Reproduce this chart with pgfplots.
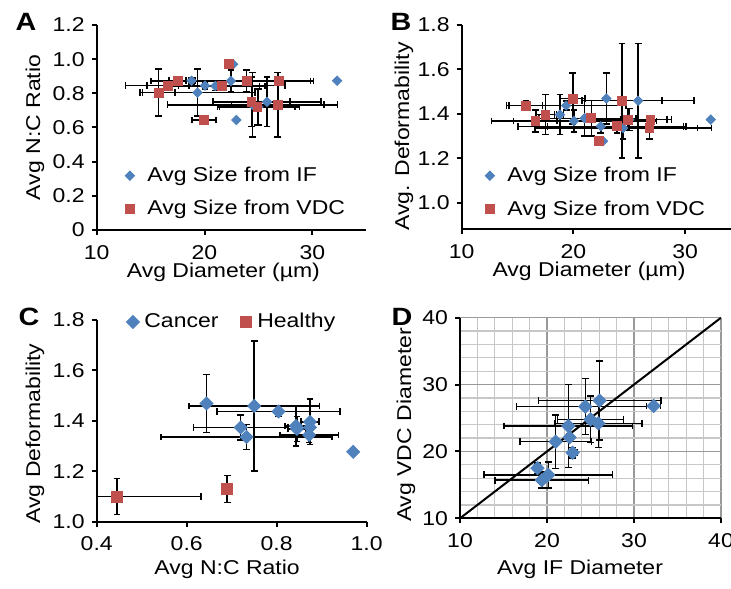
\documentclass[border=0pt]{standalone}
\usepackage{pgfplots}
\pgfplotsset{compat=1.18}
\usepackage{pgfplotstable}
\usepackage{fontspec}
\setmainfont{Liberation Sans}[FakeStretch=1.15]
\definecolor{xblue}{HTML}{4F81BD}
\definecolor{xred}{HTML}{C0504D}

% cancer samples: IF diameter, VDC diameter, N:C ratio, deformability (with errors)
\pgfplotstableread{
if    ife   vdc   vdce  nc    nce    def   defe
18.8  0.3   17.5  0.8   0.874 0.02   1.396 0.09
19.35 5.35  15.75 1.5   0.804 0.137  1.437 0.02
20.05 7.4   16.6  1.95  0.845 0.02   1.368 0.05
21.0  4.1   21.6  4.0   0.843 0.025  1.380 0.08
22.65 0     22.3  0     0.970 0      1.277 0
22.45 7.4   23.9  6.2   0.872 0.065  1.344 0.03
22.95 0     19.95 1.1   0.644 0      1.469 0.115
24.45 7.9   26.8  4.3   0.733 0.19   1.336 0.05
25.0  3.8   24.9  3.5   0.720 0.105  1.374 0.05
25.8  5.0   24.35 3.6   0.750 0.145  1.459 0.257
32.3  0     26.9  0     0.874 0      1.374 0
}\cancer

\pgfplotstableread{
nc    nce    def   defe
0.445 0.187  1.100 0.072
0.690 0      1.130 0.053
}\healthy

% panel D: IF vs VDC diameter
\pgfplotstableread{
if    ife   vdc   vdce
18.9  0.3   17.5  0.8
19.4  5.35  15.7  1.2
20.15 7.4   16.5  1.95
21.0  4.1   21.45 4.0
22.6  0     22.1  0.5
22.45 7.4   23.8  6.2
22.95 0.5   19.8  0.8
24.4  7.9   26.7  4.2
25.0  3.8   24.8  3.5
25.9  5.0   24.2  3.6
26.05 7.05  27.6  5.9
32.25 0.8   26.8  0
}\dpairs

\pgfplotsset{
  excelaxis/.style={
    scale only axis,
    anchor=south west,
    axis lines=left,
    axis line style={-, line width=1pt, black},
    tick align=outside,
    major tick length=2.5pt,
    tick style={line width=1pt, black},
    tick label style={font=\fontsize{10}{12}\selectfont},
    xticklabel style={yshift=-1.5pt},
    label style={font=\fontsize{10}{12}\selectfont},
    /pgf/number format/assume math mode=true,
    legend style={draw=none, fill=none, inner sep=0pt,
      font=\fontsize{10}{12}\selectfont, cells={anchor=west}},
  },
  ebars/.style={
    /pgfplots/error bars/x dir=both, /pgfplots/error bars/x explicit,
    /pgfplots/error bars/y dir=both, /pgfplots/error bars/y explicit,
    /pgfplots/error bars/error bar style={black, line width=0.75pt, solid},
    /pgfplots/error bars/error mark options={rotate=90, black, line width=0.75pt, mark size=1.7pt},
  },
  bluemark/.style={only marks, mark=square*, mark size=#1,
    mark options={rotate=45, fill=xblue, draw=xblue, solid}},
  redmark/.style={only marks, mark=square*, mark size=#1,
    mark options={fill=xred, draw=xred, solid}},
  wideimg/.style={legend image code/.code={\path (0pt,-3pt) (11pt,3pt); \draw[##1] plot coordinates {(4.5pt,0pt)};}},
  narrowimg/.style={legend image code/.code={\path (0pt,-3pt) (8pt,3pt); \draw[##1] plot coordinates {(4.5pt,0pt)};}},
}

\begin{document}
\begin{tikzpicture}
\path[use as bounding box] (0,0) rectangle (365.5pt,294pt);

% ---------------- Panel A ----------------
\begin{axis}[excelaxis,
  at={(48.35pt,179pt)}, width=134.75pt, height=102.5pt,
  xmin=10, xmax=35, ymin=0, ymax=1.2,
  xtick={10,20,30}, xticklabels={10,20,30},
  ytick={0,0.2,0.4,0.6,0.8,1.0,1.2},
  yticklabels={0,0.2,0.4,0.6,0.8,1.0,1.2},
  xlabel={Avg Diameter (µm)}, ylabel={Avg N:C Ratio},
  xlabel style={at={(axis description cs:0.47,-0.207)}, anchor=center},
  ylabel style={at={(axis description cs:-0.229,0.5)}, anchor=center},
  legend style={at={(axis description cs:0.087,0.183)}, anchor=west, row sep=4pt},
]
\addplot[bluemark=1.65pt, wideimg, ebars] table[x=if, y=nc, x error=ife, y error=nce]{\cancer};
\addlegendentry{Avg Size from IF}
\addplot[redmark=2.2pt, wideimg, ebars] table[x=vdc, y=nc, x error=vdce, y error=nce]{\cancer};
\addlegendentry{Avg Size from VDC}
\end{axis}

% ---------------- Panel B ----------------
\begin{axis}[excelaxis,
  at={(230.85pt,179.35pt)}, width=139.6pt, height=102.15pt,
  xmin=10, xmax=35, ymin=0.88, ymax=1.8,
  xtick={10,20,30}, xticklabels={10,20,30},
  ytick={1.0,1.2,1.4,1.6,1.8},
  yticklabels={1.0,1.2,1.4,1.6,1.8},
  xlabel={Avg Diameter (µm)}, ylabel={Avg. Deformability},
  xlabel style={at={(axis description cs:0.456,-0.208)}, anchor=center},
  ylabel style={at={(axis description cs:-0.207,0.454)}, anchor=center},
  legend style={at={(axis description cs:0.066,0.18)}, anchor=west, row sep=4pt},
]
\addplot[bluemark=1.65pt, wideimg, ebars] table[x=if, y=def, x error=ife, y error=defe]{\cancer};
\addlegendentry{Avg Size from IF}
\addplot[redmark=2.2pt, wideimg, ebars] table[x=vdc, y=def, x error=vdce, y error=defe]{\cancer};
\addlegendentry{Avg Size from VDC}
\end{axis}

% ---------------- Panel C ----------------
\begin{axis}[excelaxis,
  at={(48.35pt,33.15pt)}, width=135pt, height=100.85pt,
  xmin=0.4, xmax=1.0, ymin=1.0, ymax=1.8,
  xtick={0.4,0.6,0.8,1.0}, xticklabels={0.4,0.6,0.8,1.0},
  ytick={1.0,1.2,1.4,1.6,1.8},
  yticklabels={1.0,1.2,1.4,1.6,1.8},
  xlabel={Avg N:C Ratio}, ylabel={Avg Deformability},
  xlabel style={at={(axis description cs:0.483,-0.234)}, anchor=center},
  ylabel style={at={(axis description cs:-0.2285,0.437)}, anchor=center},
  legend columns=2,
  legend style={at={(axis description cs:0.098,0.99)}, anchor=west,
    /tikz/every even column/.append style={column sep=7pt}},
]
\addplot[bluemark=2.3pt, narrowimg, ebars] table[x=nc, y=def, x error=nce, y error=defe]{\cancer};
\addlegendentry{Cancer}
\addplot[redmark=2.75pt, narrowimg, ebars] table[x=nc, y=def, x error=nce, y error=defe]{\healthy};
\addlegendentry{Healthy}
\end{axis}

% ---------------- Panel D ----------------
\begin{axis}[excelaxis,
  at={(230pt,34.85pt)}, width=130.5pt, height=100.3pt,
  xmin=10, xmax=40, ymin=10, ymax=40,
  xtick={10,20,30,40}, ytick={10,20,30,40},
  xticklabels={10,20,30,40}, yticklabels={10,20,30,40},
  minor tick num=4, minor tick length=0pt,
  grid=both,
  major grid style={draw=black!40, line width=0.6pt},
  minor grid style={draw=black!22, line width=0.6pt},
  xlabel={Avg IF Diameter}, ylabel={Avg VDC Diameter},
  xlabel style={at={(axis description cs:0.46,-0.253)}, anchor=center},
  ylabel style={at={(axis description cs:-0.207,0.465)}, anchor=center},
]
\addplot[black, line width=1pt, no marks] coordinates {(10,10) (40,40)};
\addplot[bluemark=2.35pt, ebars] table[x=if, y=vdc, x error=ife, y error=vdce]{\dpairs};
\end{axis}

% panel letters
\node[font=\bfseries\fontsize{12.5}{14}\selectfont] at (13pt,283pt) {A};
\node[font=\bfseries\fontsize{12.5}{14}\selectfont] at (200.5pt,283pt) {B};
\node[font=\bfseries\fontsize{12.5}{14}\selectfont] at (14.5pt,135.5pt) {C};
\node[font=\bfseries\fontsize{12.5}{14}\selectfont] at (201pt,135.5pt) {D};
\end{tikzpicture}
\end{document}
